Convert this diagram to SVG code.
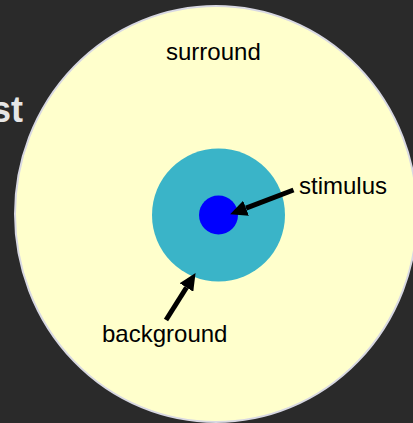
<svg xmlns="http://www.w3.org/2000/svg" width="413" height="423" viewBox="0 0 413 423">
  <style>
    .lbl { font-family: "Liberation Sans", Arial, sans-serif; font-size: 24px; fill: #000; }
    .arrow { stroke: #000; stroke-width: 5; fill: none; marker-end: url(#head); }
  </style>
  <defs>
    <marker id="head" markerUnits="userSpaceOnUse" markerWidth="18" markerHeight="16" refX="0" refY="8" orient="auto" viewBox="0 0 18 16">
      <path d="M0,0 L17,8 L0,16 z" fill="#000"/>
    </marker>
  </defs>
  <rect x="0" y="0" width="413" height="423" fill="#2a2a2a"/>
  <text x="23" y="122" text-anchor="end" font-family="Liberation Sans, Arial, sans-serif" font-weight="bold" font-size="36" fill="#e6e6e6">st</text>
  <g id="surround">
    <ellipse cx="216" cy="214" rx="201" ry="208" fill="#ffffcc" stroke="#d8d8e2" stroke-width="2"/>
    <text class="lbl" x="166" y="60">surround</text>
  </g>
  <g id="background">
    <circle cx="218.5" cy="215" r="66.5" fill="#3ab4c8"/>
    <text class="lbl" x="102" y="342">background</text>
  </g>
  <g id="stimulus">
    <circle cx="218.5" cy="215" r="19.5" fill="#0000ff"/>
    <text class="lbl" x="299" y="194">stimulus</text>
  </g>
  <g id="connectors">
    <line class="arrow" x1="293.5" y1="190" x2="246" y2="208.2"/>
    <line class="arrow" x1="166" y1="320" x2="186.5" y2="287.5"/>
  </g>
</svg>
